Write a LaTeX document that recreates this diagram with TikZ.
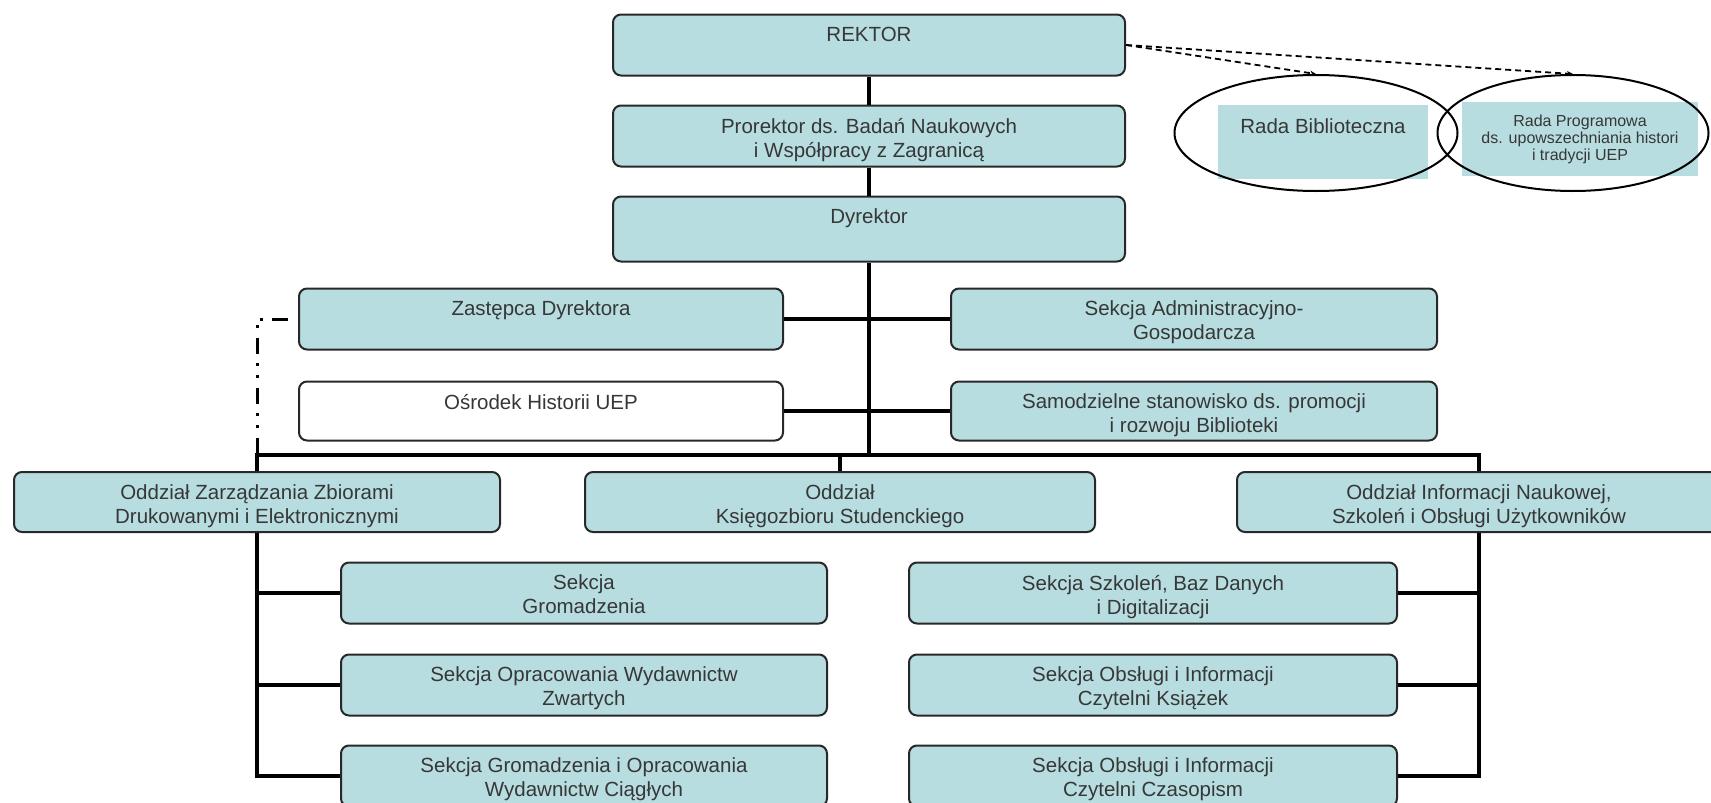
\documentclass[tikz,border=0pt]{standalone}
\usepackage{fontspec}
\setmainfont{Liberation Sans}
\definecolor{BoxFill}{RGB}{183, 221, 224}
\definecolor{BoxLine}{RGB}{40, 40, 40}
\definecolor{TextGrey}{RGB}{55, 55, 55}
\usetikzlibrary{arrows.meta, shapes.geometric, calc}

\tikzset{
  box/.style={draw=BoxLine, line width=2pt, rounded corners=8pt, fill=BoxFill,
    minimum height=61pt, inner sep=0pt},
  txt/.style={anchor=north, yshift=-10pt, align=center, text=TextGrey,
    font=\fontsize{20.5}{24}\selectfont},
  conn/.style={draw=black, line width=4.5pt},
  radadash/.style={line width=1.8pt, dash pattern=on 6pt off 4pt,
    -{Stealth[length=6pt, width=5pt]}},
  dashdotdot/.style={line width=3pt,
    dash pattern=on 16pt off 9pt on 3pt off 9pt on 3pt off 10pt},
  oval/.style={ellipse, draw=black, line width=2pt, inner sep=0pt},
}

\begin{document}
\begin{tikzpicture}[x=1pt, y=-1pt]
    \useasboundingbox (0,0) rectangle (1711,803);

    % wladze uczelni
    \node[box, minimum width=512pt, minimum height=61pt, label={[txt]north:REKTOR}] (rektor) at (869,45) {};
    \node[box, minimum width=512pt, minimum height=61pt,
      label={[txt]north:Prorektor ds. Badań Naukowych\\i Współpracy z Zagranicą}] (prorektor) at (869,136) {};
    \node[box, minimum width=512pt, minimum height=65pt, label={[txt]north:Dyrektor}] (dyrektor) at (869,229) {};

    % rady
    \node[fill=BoxFill, minimum width=210pt, minimum height=74pt,
      label={[txt]north:Rada Biblioteczna}] (radaBib) at (1323,142) {};
    \node[fill=BoxFill, minimum width=236pt, minimum height=74pt, align=center, text=TextGrey,
      font=\fontsize{16}{17}\selectfont] (radaProg) at (1580,139)
      {Rada Programowa\\ds. upowszechniania histori\\i tradycji UEP};
    \node[oval, minimum width=283pt, minimum height=116pt] (radaBibOval) at (1316,133) {};
    \node[oval, minimum width=271pt, minimum height=116pt] (radaProgOval) at (1573,133) {};

    % zastepca i stanowiska
    \node[box, minimum width=484pt, label={[txt]north:Zastępca Dyrektora}] (zastepca) at (541,319) {};
    \node[box, minimum width=486pt,
      label={[txt]north:Sekcja Administracyjno-\\Gospodarcza}] (sekcjaAdm) at (1194,319) {};
    \node[box, fill=white, minimum width=484pt, minimum height=59pt,
      label={[txt]north:Ośrodek Historii UEP}] (osrodek) at (541,411) {};
    \node[box, minimum width=486pt, minimum height=59pt,
      label={[txt]north:Samodzielne stanowisko ds. promocji\\i rozwoju Biblioteki}] (promocja) at (1194,411) {};

    % oddzialy
    \node[box, minimum width=486pt, minimum height=60pt,
      label={[txt]north:Oddział Zarządzania Zbiorami\\Drukowanymi i Elektronicznymi}] (oddzZbiory) at (257,502) {};
    \node[box, minimum width=510pt, minimum height=60pt,
      label={[txt]north:Oddział\\Księgozbioru Studenckiego}] (oddzStud) at (840,502) {};
    \node[box, minimum width=484pt, minimum height=60pt,
      label={[txt]north:Oddział Informacji Naukowej,\\Szkoleń i Obsługi Użytkowników}] (oddzInfo) at (1479,502) {};

    % sekcje
    \node[box, minimum width=486pt, label={[txt]north:Sekcja\\Gromadzenia}] (sekGrom) at (584,593) {};
    \node[box, minimum width=486pt,
      label={[txt]north:Sekcja Opracowania Wydawnictw\\Zwartych}] (sekZwarte) at (584,685) {};
    \node[box, minimum width=486pt,
      label={[txt]north:Sekcja Gromadzenia i Opracowania\\Wydawnictw Ciągłych}] (sekCiagle) at (584,776) {};
    \node[box, minimum width=488pt,
      label={[txt]north:Sekcja Szkoleń, Baz Danych\\i Digitalizacji}] (sekSzkol) at (1153,593) {};
    \node[box, minimum width=488pt,
      label={[txt]north:Sekcja Obsługi i Informacji\\Czytelni Książek}] (sekKsiazki) at (1153,685) {};
    \node[box, minimum width=488pt,
      label={[txt]north:Sekcja Obsługi i Informacji\\Czytelni Czasopism}] (sekCzas) at (1153,776) {};

    % polaczenia
    \coordinate (bus) at (869,455);
    \draw[conn] (rektor) -- (prorektor);
    \draw[conn] (prorektor) -- (dyrektor);
    \draw[conn] (dyrektor.south) -- (bus);
    \draw[conn] (zastepca.east) -- (sekcjaAdm.west);
    \draw[conn] (osrodek.east) -- (promocja.west);
    \draw[conn] (oddzZbiory.north) |- (bus) -| (oddzInfo.north);
    \draw[conn] (bus -| oddzStud.north) -- (oddzStud.north);
    \draw[conn] (oddzZbiory.south) |- (sekCiagle.west);
    \draw[conn] (sekGrom.west -| oddzZbiory.south) -- (sekGrom.west);
    \draw[conn] (sekZwarte.west -| oddzZbiory.south) -- (sekZwarte.west);
    \draw[conn] (oddzInfo.south) |- (sekCzas.east);
    \draw[conn] (sekSzkol.east -| oddzInfo.south) -- (sekSzkol.east);
    \draw[conn] (sekKsiazki.east -| oddzInfo.south) -- (sekKsiazki.east);
    \draw[dashdotdot] ([xshift=-10pt]zastepca.west) -| (bus -| oddzZbiory.north);
    \draw[radadash] (rektor.east) -- (radaBibOval.north);
    \draw[radadash] (rektor.east) -- (radaProgOval.north);
\end{tikzpicture}
\end{document}
